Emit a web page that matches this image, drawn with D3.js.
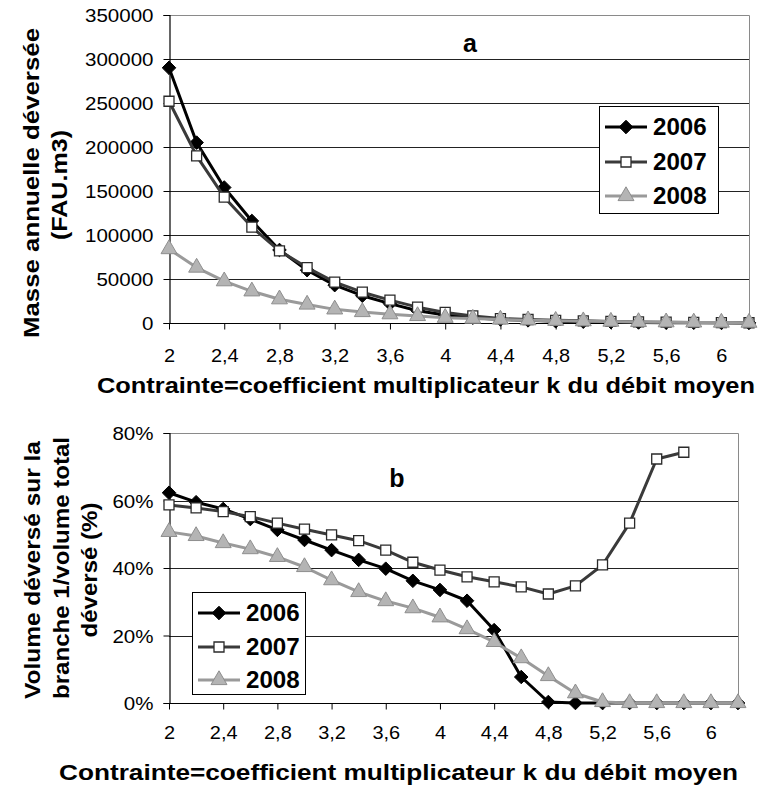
<!DOCTYPE html>
<html>
<head>
<meta charset="utf-8">
<script src="https://cdn.jsdelivr.net/npm/d3@7"></script>
<style>
  html, body { margin: 0; padding: 0; background: #fff; }
  svg { display: block; }
  text { font-family: "Liberation Sans", Arial, sans-serif; fill: #000; }
</style>
</head>
<body>
<svg id="chart" width="759" height="789"></svg>
<script>
// Constraint k (multiplier of the mean flow)
const kValues = [2.0, 2.2, 2.4, 2.6, 2.8, 3.0, 3.2, 3.4, 3.6, 3.8, 4.0, 4.2, 4.4, 4.6, 4.8, 5.0, 5.2, 5.4, 5.6, 5.8, 6.0, 6.2];
const kTickLabels = ["2", "2,4", "2,8", "3,2", "3,6", "4", "4,4", "4,8", "5,2", "5,6", "6"];
const years = ["2006", "2007", "2008"];

// (a) annual mass overflowed, FAU.m3
const mass2006 = [290000, 205000, 154000, 116000, 83000, 60000, 43000, 31000, 22000, 14000, 9000, 6000, 4000, 3000, 2000, 1500, 1000, 600, 400, 300, 200, 100];
const mass2007 = [252000, 190000, 143000, 109000, 82000, 63000, 46500, 35000, 26000, 18000, 12000, 8000, 5000, 4000, 3000, 2500, 1800, 1200, 900, 600, 400, 300];
const mass2008 = [84000, 63000, 47500, 36000, 27000, 21000, 15500, 12500, 10000, 8000, 6000, 5000, 4000, 3200, 2600, 2100, 1600, 1200, 900, 700, 500, 400];
const massTicks = [0, 50000, 100000, 150000, 200000, 250000, 300000, 350000];

// (b) share of the overflowed volume on branch 1
const share2006 = [0.623, 0.595, 0.575, 0.545, 0.513, 0.483, 0.453, 0.424, 0.398, 0.362, 0.335, 0.303, 0.216, 0.077, 0.003, 0, 0, 0, 0, 0, 0, 0];
const share2007 = [0.587, 0.578, 0.567, 0.552, 0.533, 0.515, 0.498, 0.481, 0.453, 0.417, 0.394, 0.374, 0.359, 0.344, 0.323, 0.347, 0.409, 0.533, 0.723, 0.743, null, null];
const share2008 = [0.507, 0.495, 0.474, 0.456, 0.433, 0.403, 0.364, 0.329, 0.302, 0.281, 0.254, 0.219, 0.181, 0.133, 0.080, 0.029, 0.003, 0, 0, 0, 0, 0];
const shareTicks = [0, 0.2, 0.4, 0.6, 0.8];

// square diamond marker (a square turned 45°)
const symbolSquareDiamond = {
  draw(ctx, size) {
    const r = Math.sqrt(size / 2);
    ctx.moveTo(0, -r); ctx.lineTo(r, 0); ctx.lineTo(0, r); ctx.lineTo(-r, 0); ctx.closePath();
  }
};

const styles = {
  "2006": { stroke: "#000000", fill: "#000000", mStroke: "#000000", shape: symbolSquareDiamond, size: 92, mw: 1 },
  "2007": { stroke: "#3a3a3a", fill: "#ffffff", mStroke: "#2a2a2a", shape: d3.symbolSquare, size: 100, mw: 1.3 },
  "2008": { stroke: "#9a9a9a", fill: "#b4b4b4", mStroke: "#8e8e8e", shape: d3.symbolTriangle, size: 110, mw: 1 }
};

const svg = d3.select("#chart");

// stretch a text's glyphs horizontally by factor k
function stretch(sel, k) {
  sel.each(function () {
    const w = this.getComputedTextLength();
    d3.select(this).attr("textLength", w * k).attr("lengthAdjust", "spacingAndGlyphs");
  });
}

function panel(opts) {
  const g = svg.append("g");
  const x = d3.scalePoint().domain(d3.range(kValues.length)).range(opts.xRange);
  const y = d3.scaleLinear().domain(opts.yDomain).range(opts.yRange);
  const [x0, x1] = opts.xRange;
  const [yb, yt] = opts.yRange;

  // horizontal gridlines
  g.append("g").selectAll("line").data(opts.yTicks.slice(1, -1)).join("line")
    .attr("x1", x0).attr("x2", x1)
    .attr("y1", d => Math.round(y(d)) + 0.5).attr("y2", d => Math.round(y(d)) + 0.5)
    .attr("stroke", "#222").attr("stroke-width", 1);

  // plot frame (top and right)
  g.append("path")
    .attr("d", `M${x0},${Math.round(yt) + 0.5}H${x1 + 0.5}V${Math.round(yb)}`)
    .attr("fill", "none").attr("stroke", "#8a8a8a").attr("stroke-width", 1);

  // y axis
  const yAxis = d3.axisLeft(y).tickValues(opts.yTicks).tickSize(6).tickPadding(10).tickFormat(opts.yFormat);
  const ya = g.append("g").attr("transform", `translate(${x0 + 0.5},0)`).call(yAxis);
  ya.select(".domain").attr("stroke", "#000").attr("stroke-width", 1.2);
  ya.selectAll(".tick line").attr("stroke", "#000");
  ya.selectAll(".tick text").attr("font-size", 19).attr("font-family", "Liberation Sans, Arial, sans-serif")
    .attr("fill", "#000").attr("dy", "0.35em");
  stretch(ya.selectAll(".tick text"), 1.08);

  // x axis: labels every other category
  const labelled = d3.range(0, kValues.length, 2).slice(0, kTickLabels.length);
  const xAxis = d3.axisBottom(x).tickValues(labelled).tickSize(6).tickPadding(opts.xPad)
    .tickFormat((d, i) => kTickLabels[i]);
  const xa = g.append("g").attr("transform", `translate(0,${Math.round(yb) + 0.5})`).call(xAxis);
  xa.select(".domain").attr("d", `M${x0},0H${x1}`).attr("stroke", "#000").attr("stroke-width", 1.2);
  xa.selectAll(".tick line").attr("stroke", "#000");
  xa.selectAll(".tick text").attr("font-size", 19).attr("font-family", "Liberation Sans, Arial, sans-serif").attr("fill", "#000");
  stretch(xa.selectAll(".tick text"), 1.05);

  // series
  opts.series.forEach((vals, si) => {
    const st = styles[years[si]];
    const line = d3.line().defined(d => d != null).x((d, i) => x(i)).y(d => y(d));
    g.append("path").datum(vals).attr("d", line)
      .attr("fill", "none").attr("stroke", st.stroke).attr("stroke-width", 3).attr("stroke-linejoin", "round");
    g.append("g").selectAll("path").data(vals.map((v, i) => [i, v]).filter(d => d[1] != null)).join("path")
      .attr("transform", d => `translate(${x(d[0])},${y(d[1])})`)
      .attr("d", d3.symbol().type(st.shape).size(st.size))
      .attr("fill", st.fill).attr("stroke", st.mStroke).attr("stroke-width", st.mw);
  });

  // panel letter
  g.append("text").attr("x", opts.letter[0]).attr("y", opts.letter[1]).attr("text-anchor", "middle")
    .attr("font-size", 25).attr("font-weight", "bold").text(opts.letterText);

  // legend
  const [lx, ly, lw, lh] = opts.legend;
  const lg = g.append("g");
  lg.append("rect").attr("x", lx + 0.5).attr("y", ly + 0.5).attr("width", lw).attr("height", lh)
    .attr("fill", "#fff").attr("stroke", "#000").attr("stroke-width", 1);
  years.forEach((yr, i) => {
    const st = styles[yr];
    const cy = ly + opts.legendRows[i];
    lg.append("line").attr("x1", lx + 6).attr("x2", lx + 48).attr("y1", cy).attr("y2", cy)
      .attr("stroke", st.stroke).attr("stroke-width", 3);
    lg.append("path").attr("transform", `translate(${lx + 27},${cy})`)
      .attr("d", d3.symbol().type(st.shape).size(st.size))
      .attr("fill", st.fill).attr("stroke", st.mStroke).attr("stroke-width", st.mw);
    const t = lg.append("text").attr("x", lx + 54).attr("y", cy).attr("dy", "0.36em")
      .attr("font-size", 23).attr("font-weight", "bold").text(yr);
    stretch(t, 1.05);
  });

  // x title
  svg.append("text").attr("x", opts.xTitle[0]).attr("y", opts.xTitle[1]).attr("text-anchor", "start")
    .attr("font-size", 22).attr("font-weight", "bold")
    .attr("textLength", opts.xTitle[2]).attr("lengthAdjust", "spacingAndGlyphs")
    .text("Contrainte=coefficient multiplicateur k du débit moyen");

  // y title (rotated, several lines)
  opts.yTitle.forEach(([txt, cx, cy, len]) => {
    svg.append("text").attr("transform", `translate(${cx},${cy}) rotate(-90)`)
      .attr("text-anchor", "middle").attr("dy", "0.36em")
      .attr("font-size", 22).attr("font-weight", "bold")
      .attr("textLength", len).attr("lengthAdjust", "spacingAndGlyphs").text(txt);
  });
}

panel({
  xRange: [169, 749], yRange: [323, 15], yDomain: [0, 350000], yTicks: massTicks,
  yFormat: d => String(d), xPad: 19,
  series: [mass2006, mass2007, mass2008],
  letter: [470, 52], letterText: "a",
  legend: [599, 106, 119, 107], legendRows: [21, 56, 90],
  xTitle: [97, 393, 658],
  yTitle: [["Masse annuelle déversée", 31, 183, 310], ["(FAU.m3)", 59, 185, 110]]
});

panel({
  xRange: [169, 738], yRange: [703, 433], yDomain: [0, 0.8], yTicks: shareTicks,
  yFormat: d => Math.round(d * 100) + "%", xPad: 16,
  series: [share2006, share2007, share2008],
  letter: [397, 487], letterText: "b",
  legend: [192, 592, 113, 102], legendRows: [21, 55, 88],
  xTitle: [59, 780, 679],
  yTitle: [["Volume déversé sur la", 32, 570, 258], ["branche 1/volume total", 61, 568, 262], ["déversé (%)", 89, 570, 135]]
});
</script>
</body>
</html>
